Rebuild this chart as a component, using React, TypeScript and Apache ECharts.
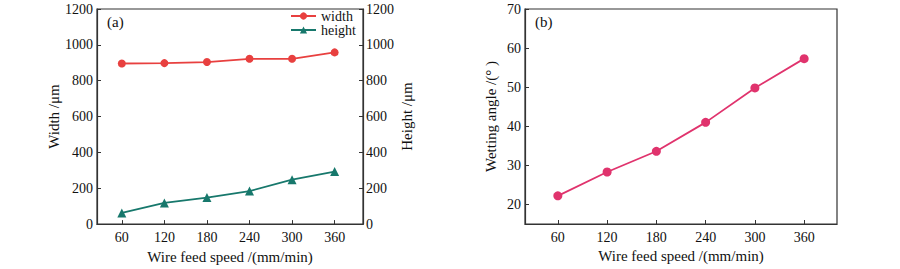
import React, { useEffect, useRef } from "react";
import * as echarts from "echarts";

const speeds = [60, 120, 180, 240, 300, 360];
const widthValues = [896, 898, 904, 922, 922, 958];
const heightValues = [62, 118, 148, 184, 248, 293];
const wettingValues = [22.2, 28.3, 33.6, 41.0, 49.8, 57.3];
const rightYTicks = [20, 30, 40, 50, 60, 70];

const FONT = "Liberation Serif";
const AXIS_COLOR = "#333333";
const TEXT_COLOR = "#111111";
const RED = "#e8403f";
const TEAL = "#17786c";
const PINK = "#e0336d";

export default function App() {
  const ref = useRef<HTMLDivElement>(null);
  useEffect(() => {
    if (!ref.current) return;
    const chart = echarts.init(ref.current, undefined, { renderer: "svg" });
    const pair = (xs: number[], ys: number[]) => xs.map((x, i) => [x, ys[i]]);
    const plain = (v: number) => String(v);
    const axisLine = { show: true, lineStyle: { color: AXIS_COLOR, width: 1.2 } };
    const labelStyle = { color: TEXT_COLOR, fontFamily: FONT, fontSize: 14, formatter: plain };
    const nameStyle = { color: TEXT_COLOR, fontFamily: FONT, fontSize: 15 };
    const tick = (custom?: number[]) => ({
      show: true,
      inside: true,
      length: 4,
      ...(custom ? { customValues: custom } : {}),
      lineStyle: { color: AXIS_COLOR },
    });
    const xAxisCommon = (gridIndex: number, min: number, max: number) => ({
      type: "value",
      gridIndex,
      min,
      max,
      name: "Wire feed speed /(mm/min)",
      nameLocation: "middle",
      nameGap: 24,
      nameTextStyle: nameStyle,
      axisLine,
      axisTick: tick(speeds),
      axisLabel: { ...labelStyle, margin: 6, customValues: speeds },
      splitLine: { show: false },
    });
    chart.setOption({
      animation: false,
      backgroundColor: "#ffffff",
      grid: [
        { left: 97, right: 537, top: 9, bottom: 44, show: true, borderColor: AXIS_COLOR, borderWidth: 1.2, backgroundColor: "transparent" },
        { left: 525, right: 63, top: 9, bottom: 45, show: true, borderColor: AXIS_COLOR, borderWidth: 1.2, backgroundColor: "transparent" },
      ],
      legend: {
        orient: "vertical",
        left: 290,
        top: 9,
        padding: 0,
        itemWidth: 25,
        itemHeight: 9,
        itemGap: 0,
        textStyle: { color: TEXT_COLOR, fontFamily: FONT, fontSize: 14 },
        data: ["width", "height"],
      },
      xAxis: [xAxisCommon(0, 25, 400), xAxisCommon(1, 20, 400)],
      yAxis: [
        {
          type: "value",
          gridIndex: 0,
          min: 0,
          max: 1200,
          interval: 200,
          name: "Width /μm",
          nameLocation: "middle",
          nameGap: 32,
          nameTextStyle: nameStyle,
          axisLine,
          axisTick: tick(),
          axisLabel: { ...labelStyle, margin: 4 },
          splitLine: { show: false },
        },
        {
          type: "value",
          gridIndex: 0,
          position: "right",
          min: 0,
          max: 1200,
          interval: 200,
          name: "Height /μm",
          nameLocation: "middle",
          nameGap: 36,
          nameTextStyle: nameStyle,
          axisLine,
          axisTick: tick(),
          axisLabel: { ...labelStyle, margin: 3 },
          splitLine: { show: false },
        },
        {
          type: "value",
          gridIndex: 1,
          min: 15,
          max: 70,
          name: "Wetting angle /(° )",
          nameLocation: "middle",
          nameGap: 27,
          nameTextStyle: nameStyle,
          axisLine,
          axisTick: tick(rightYTicks),
          axisLabel: { ...labelStyle, margin: 4, customValues: rightYTicks },
          splitLine: { show: false },
        },
      ],
      graphic: [
        { type: "text", left: 107, top: 14, style: { text: "(a)", fill: TEXT_COLOR, font: `15px "${FONT}"` } },
        { type: "text", left: 535, top: 14, style: { text: "(b)", fill: TEXT_COLOR, font: `15px "${FONT}"` } },
      ],
      series: [
        {
          name: "width",
          type: "line",
          xAxisIndex: 0,
          yAxisIndex: 0,
          data: pair(speeds, widthValues),
          symbol: "circle",
          symbolSize: 8,
          lineStyle: { color: RED, width: 1.8 },
          itemStyle: { color: RED },
        },
        {
          name: "height",
          type: "line",
          xAxisIndex: 0,
          yAxisIndex: 1,
          data: pair(speeds, heightValues),
          symbol: "triangle",
          symbolSize: 9,
          lineStyle: { color: TEAL, width: 1.8 },
          itemStyle: { color: TEAL },
        },
        {
          name: "wetting",
          type: "line",
          xAxisIndex: 1,
          yAxisIndex: 2,
          data: pair(speeds, wettingValues),
          symbol: "circle",
          symbolSize: 9,
          lineStyle: { color: PINK, width: 1.8 },
          itemStyle: { color: PINK },
        },
      ],
    });
    return () => chart.dispose();
  }, []);
  return (
    <div
      ref={ref}
      style={{ position: "fixed", left: 0, top: 0, width: 900, height: 269, background: "#fff" }}
    />
  );
}
